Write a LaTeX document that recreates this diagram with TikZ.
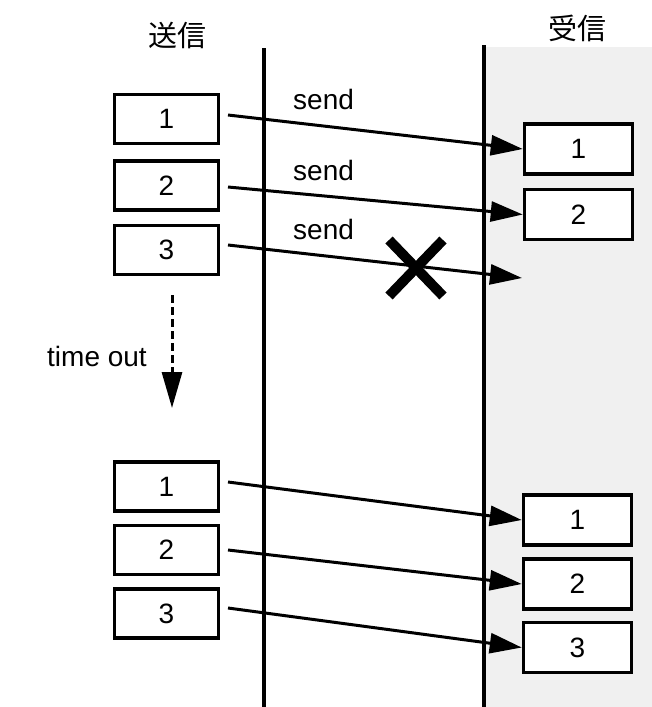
\documentclass[tikz,border=0pt]{standalone}
\usepackage{fontspec}
\setmainfont{Liberation Sans}
\newfontfamily\jpfont{Noto Sans CJK JP}
\usetikzlibrary{arrows.meta,calc}

\begin{document}
\begin{tikzpicture}[x=1pt,y=-1pt,
  lbl/.style={font=\fontsize{28}{32}\selectfont, inner sep=0pt},
  jlbl/.style={font=\jpfont\fontsize{29}{32}\selectfont, inner sep=0pt},
  pkt/.style={draw, line width=3.5pt, fill=white, minimum width=104pt,
    minimum height=49pt, inner sep=0pt, font=\fontsize{28}{32}\selectfont},
  rpkt/.style={pkt, minimum width=108pt, minimum height=50pt},
  lane/.style={line width=3.5pt},
  msg/.style={line width=3pt, -{Triangle[length=32pt,width=20pt]}},
  cross/.style={line width=10pt}
]
\useasboundingbox (0,0) rectangle (652,707);

% receiver side shading
\fill[gray!12] (486,47) rectangle (652,707);

% time lines
\draw[lane] (264,48) -- (264,707);
\draw[lane] (484,45) -- (484,707);

% column headings
\node[jlbl] (hs) at (177,35) {送信};
\node[jlbl] (hr) at (577,28) {受信};

% first transmission
\node[pkt] (a1) at (166.5,119) {1};
\node[pkt] (a2) at (166.5,185.5) {2};
\node[pkt] (a3) at (166.5,250) {3};
\node[rpkt] (b1) at (578.5,149) {1};
\node[rpkt] (b2) at (578.5,214.5) {2};

\coordinate (a1o) at (228,115);
\coordinate (a2o) at (228,187);
\coordinate (a3o) at (228,245);
\coordinate (lost) at (522,278);

\draw[msg] (a1o) -- (b1.west);
\draw[msg] (a2o) -- (b2.west);
\draw[msg] (a3o) -- (lost);

\node[lbl, anchor=base west] (s1) at (293,109) {send};
\node[lbl, anchor=base west] (s2) at (293,180) {send};
\node[lbl, anchor=base west] (s3) at (293,239) {send};

% lost packet mark
\coordinate (x) at (416,268);
\draw[cross] ($(x)+(-27,-28)$) -- ($(x)+(27,28)$);
\draw[cross] ($(x)+(27,-28)$) -- ($(x)+(-27,28)$);

% time out
\coordinate (t0) at (172,295);
\coordinate (t1) at (172,408);
\draw[line width=3pt, dash pattern=on 8pt off 4pt] (t0) -- (172,372);
\draw[line width=3pt, -{Triangle[length=36pt,width=20pt]}] (172,372) -- (t1);
\node[lbl, anchor=base west] (to) at (47,366) {time out};

% retransmission
\node[pkt] (c1) at (166.5,486.5) {1};
\node[pkt] (c2) at (166.5,550) {2};
\node[pkt] (c3) at (166.5,613.5) {3};
\node[rpkt] (d1) at (577.5,520) {1};
\node[rpkt] (d2) at (577.5,584) {2};
\node[rpkt] (d3) at (577.5,647.5) {3};

\coordinate (c1o) at (228,482);
\coordinate (c2o) at (228,550);
\coordinate (c3o) at (228,608);

\draw[msg] (c1o) -- (d1.west);
\draw[msg] (c2o) -- (d2.west);
\draw[msg] (c3o) -- (d3.west);
\end{tikzpicture}
\end{document}
